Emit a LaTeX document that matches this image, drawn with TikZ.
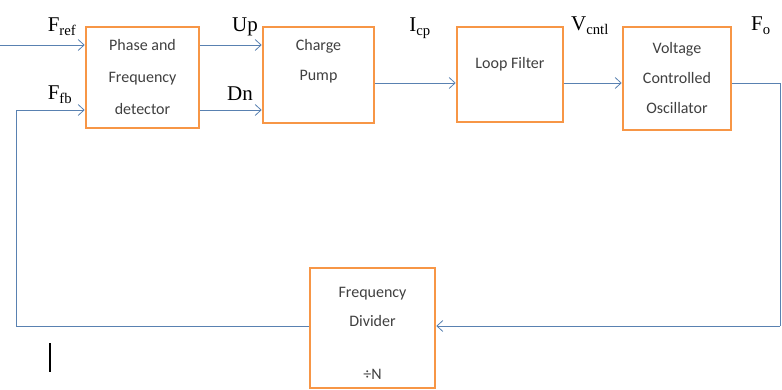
\documentclass[tikz,border=0pt]{standalone}
\usepackage{fontspec}
\setmainfont{Liberation Serif}
\newfontfamily\boxfont{Carlito}
\usetikzlibrary{arrows.meta}
\definecolor{wire}{HTML}{4F81BD}
\definecolor{boxorange}{HTML}{F79646}
\tikzset{
  blockbox/.style={draw=boxorange, line width=2.6pt, fill=white, inner sep=0pt, text=black!75, align=center},
  wireline/.style={draw=wire!80!gray, line width=0.9pt},
  arr/.style={wireline, -{Straight Barb[length=6pt,width=11pt,line width=0.8pt]}},
  sig/.style={font=\fontsize{21}{22}\selectfont, inner sep=0pt, anchor=base}
}
\begin{document}
\begin{tikzpicture}[x=1pt,y=-1pt]
\useasboundingbox (0,0) rectangle (782,390);
\node[blockbox, minimum width=113pt, minimum height=101pt, font=\boxfont\fontsize{16}{32}\selectfont] (pfd) at (142.5,77.5) {Phase and\\Frequency\\detector};
\node[blockbox, minimum width=111pt, minimum height=96pt, font=\boxfont\fontsize{16}{30}\selectfont] (cp) at (318.5,75) {Charge\\Pump\\\mbox{}};
\node[blockbox, minimum width=106pt, minimum height=95pt, font=\boxfont\fontsize{16}{30}\selectfont] (lf) at (510,74.5) {Loop Filter\\[-6pt]\mbox{}};
\node[blockbox, minimum width=108pt, minimum height=103pt, font=\boxfont\fontsize{16}{30}\selectfont] (vco) at (677,78.5) {Voltage\\Controlled\\Oscillator};
\node[blockbox, minimum width=125pt, minimum height=120pt, font=\boxfont\fontsize{16}{29}\selectfont] (div) at (372.5,328) {\mbox{}\\[-9pt]Frequency\\Divider\\[24pt]÷N};
% coordinates
\coordinate (refin) at (0,45);
\coordinate (fbc) at (16,110);
\coordinate (bl) at (16,326);
\coordinate (rt) at (780,83);
\coordinate (rb) at (780,326);
% wires
\draw[arr] (refin) -- (refin -| pfd.west);
\draw[arr] (fbc) -- (fbc -| pfd.west);
\draw[arr] (pfd.east |- refin) -- (cp.west |- refin);
\draw[arr] (pfd.east |- fbc) -- (cp.west |- fbc);
\draw[arr] (cp.east |- rt) -- (lf.west |- rt);
\draw[arr] (lf.east |- rt) -- (vco.west |- rt);
\draw[wireline] (vco.east |- rt) -- (rt) -- (rb);
\draw[arr] (rb) -- (div.east |- rb);
\draw[wireline] (div.west |- bl) -- (bl) -- (fbc);
% labels
\node[sig] (lref) at (62,32) {F\textsubscript{ref}};
\node[sig] (lfb) at (60,100) {F\textsubscript{fb}};
\node[sig] (lup) at (245,32) {Up};
\node[sig] (ldn) at (240,101) {Dn};
\node[sig] (licp) at (420,32) {I\textsubscript{cp}};
\node[sig] (lv) at (590,31) {V\textsubscript{cntl}};
\node[sig] (lfo) at (761,31) {F\textsubscript{o}};
% bar
\draw[line width=1.6pt] (50,343) -- (50,372);
\end{tikzpicture}
\end{document}
